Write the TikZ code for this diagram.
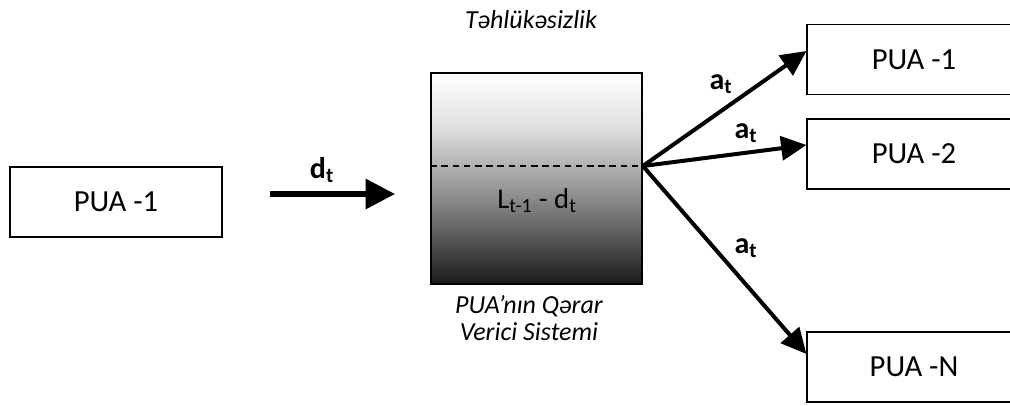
\documentclass[tikz,border=0pt]{standalone}
\usepackage{fontspec}
\setmainfont{Carlito}
\usetikzlibrary{arrows.meta}
\pgfdeclareverticalshading{tank}{100bp}{color(0bp)=(black!90); color(25bp)=(black!90); color(37.5bp)=(black!62); color(50bp)=(black!36); color(62.5bp)=(black!12); color(75bp)=(white); color(100bp)=(white)}
\begin{document}
\begin{tikzpicture}[x=0.75pt,y=-0.75pt,
  box/.style={draw=black, line width=1.3pt, inner sep=0pt, minimum width=160pt, minimum height=52.5pt,
    font=\fontsize{23}{27}\selectfont},
  tankbox/.style={draw=black, line width=1.3pt, inner sep=0pt, minimum width=158.25pt, minimum height=158.25pt, shading=tank},
  itl/.style={font=\fontsize{19.5}{20.5}\selectfont\itshape, inner sep=0pt, align=center},
  lab/.style={font=\fontsize{22.5}{26}\selectfont\bfseries, inner sep=0pt},
  inlab/.style={font=\fontsize{21.5}{25}\selectfont, inner sep=0pt},
  fatarrow/.style={line width=3.8pt, -{Triangle[length=22pt,width=22pt]}},
  outarrow/.style={line width=3pt, -{Triangle[length=19pt,width=18pt]}},
  dashline/.style={line width=1.1pt, dash pattern=on 5pt off 3.4pt}]
\useasboundingbox (0,0) rectangle (1010,405);
\clip (0,0) rectangle (1010,405);

% source
\node[box, minimum width=159pt] (src) at (116,202) {PUA -1};

% decision system
\node[tankbox] (dss) at (536.5,178.5) {};
\coordinate (dl) at (dss.west |- 0,166);
\coordinate (hub) at (dss.east |- 0,166);
\draw[dashline] (dl) -- (hub);
\node[inlab] (lvl) at (537,201) {L\textsubscript{t-1} - d\textsubscript{t}};
\node[itl] (safe) at (531,20) {Təhlükəsizlik};
\node[itl] (dsl) at (529,318) {PUA’nın Qərar\\Verici Sistemi};

% input arrow
\coordinate (dS) at (270,194);
\coordinate (dE) at (395,194);
\draw[fatarrow] (dS) -- (dE);
\node[lab] (dlab) at (322,170) {d\textsubscript{t}};

% targets
\node[box] (t1) at (914,59.5) {PUA -1};
\node[box] (t2) at (914,154) {PUA -2};
\node[box] (tn) at (914,367) {PUA -N};
\coordinate (e1) at (t1.west |- 0,51);
\coordinate (e2) at (t2.west |- 0,145);
\coordinate (en) at (tn.west |- 0,354);
\draw[outarrow] (hub) -- (e1);
\draw[outarrow] (hub) -- (e2);
\draw[outarrow] (hub) -- (en);
\node[lab] (a1) at (721,84) {a\textsubscript{t}};
\node[lab] (a2) at (746,133) {a\textsubscript{t}};
\node[lab] (an) at (746,248) {a\textsubscript{t}};
\end{tikzpicture}
\end{document}
